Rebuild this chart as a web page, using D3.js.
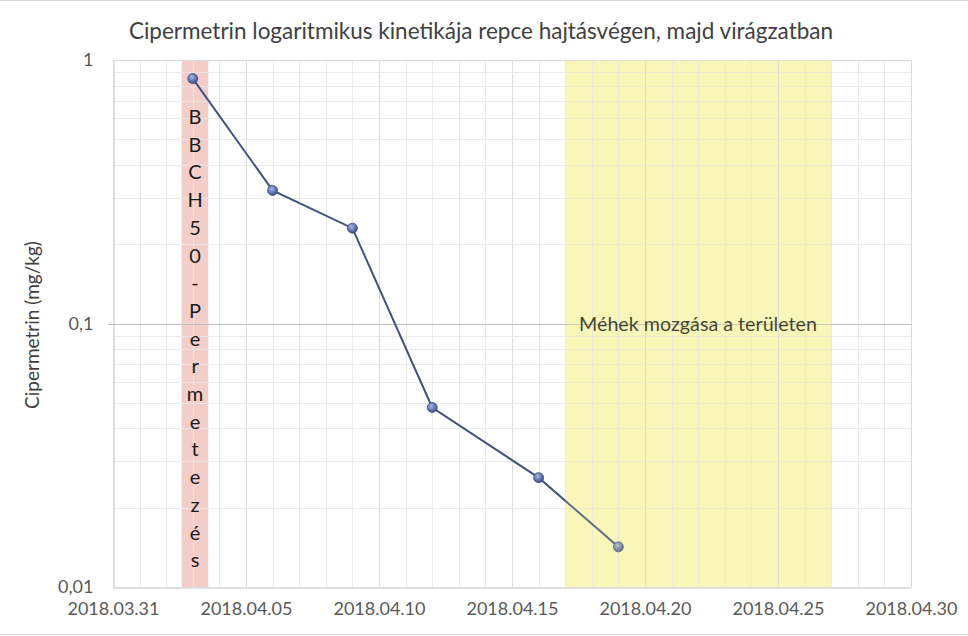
<!DOCTYPE html>
<html><head><meta charset="utf-8">
<script src="https://cdn.jsdelivr.net/npm/d3@7"></script>
<style>body{margin:0;background:#fff}svg{display:block}text{font-family:Lato,"Open Sans",sans-serif}</style>
</head><body>
<svg id="c" width="968" height="636"></svg>
<script>
const title = "Cipermetrin logaritmikus kinetikája repce hajtásvégen, majd virágzatban";
const yLabel = "Cipermetrin (mg/kg)";
const dates = ["2018-04-03","2018-04-06","2018-04-09","2018-04-12","2018-04-16","2018-04-19"];
const values = [0.85, 0.32, 0.23, 0.048, 0.026, 0.0142];
const xTickDates = ["2018-03-31","2018-04-05","2018-04-10","2018-04-15","2018-04-20","2018-04-25","2018-04-30"];
const yTicks = [1, 0.1, 0.01];
const sprayBand = ["2018-04-02T14:00","2018-04-03T14:00"];
const sprayText = "BBCH50-Permetezés";
const beeBand = ["2018-04-17","2018-04-27"];
const beeText = "Méhek mozgása a területen";

const parse = s => new Date(s.length > 10 ? s : s + "T00:00");
const svg = d3.select("#c");
const L = 113, R = 911, T = 60, B = 587;
const x = d3.scaleTime().domain([parse("2018-03-31"), parse("2018-04-30")]).range([L, R]);
const y = d3.scaleLog().domain([0.01, 1]).range([B, T]);

// outer lines
svg.append("line").attr("x1",0).attr("x2",968).attr("y1",0.5).attr("y2",0.5).attr("stroke","#d9d9d9");
svg.append("line").attr("x1",0).attr("x2",968).attr("y1",634.5).attr("y2",634.5).attr("stroke","#d9d9d9");

// bands (under grid)
const g = svg.append("g");
g.append("rect").attr("x", x(parse(sprayBand[0]))).attr("width", x(parse(sprayBand[1])) - x(parse(sprayBand[0])))
  .attr("y", T).attr("height", B - T).attr("fill", "#f3cdc8");
g.append("rect").attr("x", x(parse(beeBand[0]))).attr("width", x(parse(beeBand[1])) - x(parse(beeBand[0])))
  .attr("y", T).attr("height", B - T).attr("fill", "#fbf8c6");

// grid
const days = d3.timeDay.range(parse("2018-04-01"), parse("2018-04-30"));
const majorDays = xTickDates.map(parse).map(d => +d);
g.selectAll(".vg").data(days).join("line")
  .attr("x1", d => Math.round(x(d)) + 0.5).attr("x2", d => Math.round(x(d)) + 0.5)
  .attr("y1", T).attr("y2", B)
  .attr("stroke", d => majorDays.includes(+d) ? "#d9d9d9" : "#e8e8e8").attr("stroke-width", 1)
  .attr("opacity", 0.85);
const minorY = [];
[0.01, 0.1].forEach(dec => { for (let k = 2; k <= 9; k++) minorY.push(dec * k); });
g.selectAll(".hg").data(minorY).join("line")
  .attr("x1", L).attr("x2", R)
  .attr("y1", d => Math.round(y(d)) + 0.5).attr("y2", d => Math.round(y(d)) + 0.5)
  .attr("stroke", "#e8e8e8").attr("opacity", 0.85);
g.selectAll(".hM").data([0.1]).join("line")
  .attr("x1", L - 5).attr("x2", R)
  .attr("y1", d => Math.round(y(d)) + 0.5).attr("y2", d => Math.round(y(d)) + 0.5)
  .attr("stroke", "#bfbfbf");
g.append("line").attr("x1", L).attr("x2", R).attr("y1", T + 0.5).attr("y2", T + 0.5).attr("stroke", "#d9d9d9");
g.append("line").attr("x1", R + 0.5).attr("x2", R + 0.5).attr("y1", T).attr("y2", B).attr("stroke", "#d9d9d9");

// axes
const xAxis = d3.axisBottom(x).tickValues(xTickDates.map(parse)).tickFormat(d3.timeFormat("%Y.%m.%d")).tickSize(0).tickPadding(15);
const xa = svg.append("g").attr("transform", `translate(0,${B + 0.5})`).call(xAxis);
xa.select(".domain").attr("stroke", "#bfbfbf");
xa.selectAll("text").attr("font-size", 18).attr("fill", "#595959");

const yAxis = d3.axisLeft(y).tickValues(yTicks).tickFormat(d => String(d).replace(".", ",")).tickSize(0).tickPadding(20);
const ya = svg.append("g").attr("transform", `translate(${L + 0.5},0)`).call(yAxis);
ya.select(".domain").attr("stroke", "#bfbfbf");
ya.selectAll("text").attr("font-size", 18).attr("fill", "#595959");

// band texts
const sx = (x(parse(sprayBand[0])) + x(parse(sprayBand[1]))) / 2;
svg.append("g").selectAll("text").data(sprayText.split("")).join("text")
  .attr("x", sx).attr("y", (d, i) => 124 + i * 27.7).attr("text-anchor", "middle")
  .attr("font-size", 20).attr("fill", "#1a1a1a").text(d => d);
svg.append("text").attr("x", 698).attr("y", 331).attr("text-anchor", "middle")
  .attr("font-size", 19.7).attr("fill", "#1a1a1a").text(beeText);

// line + markers
const pts = dates.map((d, i) => ({ d: parse(d), v: values[i] }));
const defs = svg.append("defs");
const grad = defs.append("radialGradient").attr("id", "mk").attr("cx", "40%").attr("cy", "35%").attr("r", "65%");
grad.append("stop").attr("offset", "0%").attr("stop-color", "#a9b6e0");
grad.append("stop").attr("offset", "60%").attr("stop-color", "#6576b3");
grad.append("stop").attr("offset", "100%").attr("stop-color", "#3f4f8a");
svg.append("path").datum(pts)
  .attr("d", d3.line().x(p => x(p.d)).y(p => y(p.v)))
  .attr("fill", "none").attr("stroke", "#44527f").attr("stroke-width", 2);
svg.selectAll(".mk").data(pts).join("circle")
  .attr("cx", p => x(p.d)).attr("cy", p => y(p.v)).attr("r", 5)
  .attr("fill", "url(#mk)").attr("stroke", "#3b4a7c").attr("stroke-width", 0.8);
svg.append("rect").attr("x", x(parse(beeBand[0]))).attr("width", x(parse(beeBand[1])) - x(parse(beeBand[0])))
  .attr("y", T).attr("height", B - T).attr("fill", "#f5ee8a").attr("opacity", 0.2).attr("pointer-events","none");

// title & y label
svg.append("text").attr("x", 481).attr("y", 39).attr("text-anchor", "middle")
  .attr("font-size", 22.5).attr("fill", "#404040").text(title);
svg.append("text").attr("transform", "translate(39,325) rotate(-90)").attr("text-anchor", "middle")
  .attr("font-size", 19).attr("fill", "#404040").text(yLabel);
</script>
</body></html>
